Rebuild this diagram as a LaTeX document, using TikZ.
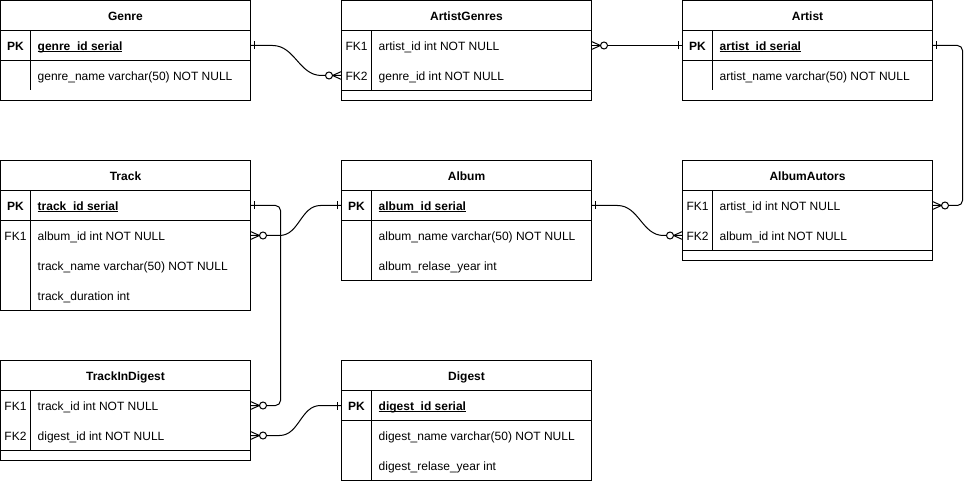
\documentclass[tikz,border=0pt]{standalone}
\usepackage{fontspec}
\setmainfont{Liberation Sans}
\usetikzlibrary{calc}
\newcommand\ulx[1]{\setbox0\hbox{#1}\rlap{\rule[-1.6pt]{\wd0}{0.9pt}}\box0}
\tikzset{
  tbl/.style={draw=black, line width=1pt},
  conn/.style={draw=black, line width=1pt},
  rowbox/.style={minimum width=250pt, minimum height=30pt, inner sep=0pt, outer sep=0pt},
  ttl/.style={anchor=base, inner sep=0pt, font=\fontsize{12pt}{14pt}\selectfont\bfseries},
  keyb/.style={anchor=base, inner sep=0pt, font=\fontsize{12pt}{14pt}\selectfont\bfseries},
  keyn/.style={anchor=base, inner sep=0pt, font=\fontsize{12pt}{14pt}\selectfont},
  fld/.style={anchor=base west, inner sep=0pt, font=\fontsize{12pt}{14pt}\selectfont},
  onebar/.pic={\draw[conn] (4,-4) -- (4,4);},
  zmany/.pic={\draw[conn] (0,4) -- (9,0) -- (0,-4); \draw[conn, fill=white] (12.5,0) circle (3.5pt);}
}
\begin{document}
\begin{tikzpicture}[x=1pt, y=-1pt]
\fill[white] (0,0) rectangle (972,481);
\useasboundingbox (0,0) rectangle (972,481);

% Genre
\begin{scope}[shift={(0.5,0.5)}]
  \draw[tbl] (0,0) rectangle (250,100);
  \draw[tbl] (0,30) -- (250,30) (0,60) -- (250,60) (30,30) -- (30,90);
  \node[ttl] (genre-t) at (125,20) {Genre};
  \node[rowbox] (genre-pk) at (125,45) {};
  \node[rowbox] (genre-nm) at (125,75) {};
  \node[keyb] (genre-k1) at (15,50) {PK};
  \node[fld] (genre-f1) at (37,50) {\bfseries\ulx{genre\_id serial}};
  \node[fld] (genre-f2) at (37,80) {genre\_name varchar(50) NOT NULL};
\end{scope}

% ArtistGenres
\begin{scope}[shift={(341.5,0.5)}]
  \draw[tbl] (0,0) rectangle (250,100);
  \draw[tbl] (0,30) -- (250,30) (0,90) -- (250,90) (30,30) -- (30,90);
  \node[ttl] (ag-t) at (125,20) {ArtistGenres};
  \node[rowbox] (ag-fk1) at (125,45) {};
  \node[rowbox] (ag-fk2) at (125,75) {};
  \node[keyn] (ag-k1) at (15,50) {FK1};
  \node[keyn] (ag-k2) at (15,80) {FK2};
  \node[fld] (ag-f1) at (37,50) {artist\_id int NOT NULL};
  \node[fld] (ag-f2) at (37,80) {genre\_id int NOT NULL};
\end{scope}

% Artist
\begin{scope}[shift={(682.5,0.5)}]
  \draw[tbl] (0,0) rectangle (250,100);
  \draw[tbl] (0,30) -- (250,30) (0,60) -- (250,60) (30,30) -- (30,90);
  \node[ttl] (artist-t) at (125,20) {Artist};
  \node[rowbox] (artist-pk) at (125,45) {};
  \node[rowbox] (artist-nm) at (125,75) {};
  \node[keyb] (artist-k1) at (15,50) {PK};
  \node[fld] (artist-f1) at (37,50) {\bfseries\ulx{artist\_id serial}};
  \node[fld] (artist-f2) at (37,80) {artist\_name varchar(50) NOT NULL};
\end{scope}

% Track
\begin{scope}[shift={(0.5,160.5)}]
  \draw[tbl] (0,0) rectangle (250,150);
  \draw[tbl] (0,30) -- (250,30) (0,60) -- (250,60) (30,30) -- (30,150);
  \node[ttl] (track-t) at (125,20) {Track};
  \node[rowbox] (track-pk) at (125,45) {};
  \node[rowbox] (track-fk1) at (125,75) {};
  \node[rowbox] (track-nm) at (125,105) {};
  \node[rowbox] (track-du) at (125,135) {};
  \node[keyb] (track-k1) at (15,50) {PK};
  \node[keyn] (track-k2) at (15,80) {FK1};
  \node[fld] (track-f1) at (37,50) {\bfseries\ulx{track\_id serial}};
  \node[fld] (track-f2) at (37,80) {album\_id int NOT NULL};
  \node[fld] (track-f3) at (37,110) {track\_name varchar(50) NOT NULL};
  \node[fld] (track-f4) at (37,140) {track\_duration int};
\end{scope}

% Album
\begin{scope}[shift={(341.5,160.5)}]
  \draw[tbl] (0,0) rectangle (250,120);
  \draw[tbl] (0,30) -- (250,30) (0,60) -- (250,60) (30,30) -- (30,120);
  \node[ttl] (album-t) at (125,20) {Album};
  \node[rowbox] (album-pk) at (125,45) {};
  \node[rowbox] (album-nm) at (125,75) {};
  \node[rowbox] (album-yr) at (125,105) {};
  \node[keyb] (album-k1) at (15,50) {PK};
  \node[fld] (album-f1) at (37,50) {\bfseries\ulx{album\_id serial}};
  \node[fld] (album-f2) at (37,80) {album\_name varchar(50) NOT NULL};
  \node[fld] (album-f3) at (37,110) {album\_relase\_year int};
\end{scope}

% AlbumAutors
\begin{scope}[shift={(682.5,160.5)}]
  \draw[tbl] (0,0) rectangle (250,100);
  \draw[tbl] (0,30) -- (250,30) (0,90) -- (250,90) (30,30) -- (30,90);
  \node[ttl] (aa-t) at (125,20) {AlbumAutors};
  \node[rowbox] (aa-fk1) at (125,45) {};
  \node[rowbox] (aa-fk2) at (125,75) {};
  \node[keyn] (aa-k1) at (15,50) {FK1};
  \node[keyn] (aa-k2) at (15,80) {FK2};
  \node[fld] (aa-f1) at (37,50) {artist\_id int NOT NULL};
  \node[fld] (aa-f2) at (37,80) {album\_id int NOT NULL};
\end{scope}

% TrackInDigest
\begin{scope}[shift={(0.5,360.5)}]
  \draw[tbl] (0,0) rectangle (250,100);
  \draw[tbl] (0,30) -- (250,30) (0,90) -- (250,90) (30,30) -- (30,90);
  \node[ttl] (tid-t) at (125,20) {TrackInDigest};
  \node[rowbox] (tid-fk1) at (125,45) {};
  \node[rowbox] (tid-fk2) at (125,75) {};
  \node[keyn] (tid-k1) at (15,50) {FK1};
  \node[keyn] (tid-k2) at (15,80) {FK2};
  \node[fld] (tid-f1) at (37,50) {track\_id int NOT NULL};
  \node[fld] (tid-f2) at (37,80) {digest\_id int NOT NULL};
\end{scope}

% Digest
\begin{scope}[shift={(341.5,360.5)}]
  \draw[tbl] (0,0) rectangle (250,120);
  \draw[tbl] (0,30) -- (250,30) (0,60) -- (250,60) (30,30) -- (30,120);
  \node[ttl] (digest-t) at (125,20) {Digest};
  \node[rowbox] (digest-pk) at (125,45) {};
  \node[rowbox] (digest-nm) at (125,75) {};
  \node[rowbox] (digest-yr) at (125,105) {};
  \node[keyb] (digest-k1) at (15,50) {PK};
  \node[fld] (digest-f1) at (37,50) {\bfseries\ulx{digest\_id serial}};
  \node[fld] (digest-f2) at (37,80) {digest\_name varchar(50) NOT NULL};
  \node[fld] (digest-f3) at (37,110) {digest\_relase\_year int};
\end{scope}

% Connectors
\draw[conn] (genre-pk.east) -- ++(22,0) to[out=0,in=180] ($(ag-fk2.west)+(-20,0)$) -- (ag-fk2.west);
\draw[conn] (ag-fk1.east) -- (artist-pk.west);
\draw[conn, rounded corners=5pt] (artist-pk.east) -- ++(30,0) |- (aa-fk1.east);
\draw[conn, rounded corners=5pt] (track-pk.east) -- ++(30,0) |- (tid-fk1.east);
\draw[conn] (track-fk1.east) -- ++(29,0) to[out=0,in=180] ($(album-pk.west)+(-21,0)$) -- (album-pk.west);
\draw[conn] (tid-fk2.east) -- ++(29,0) to[out=0,in=180] ($(digest-pk.west)+(-21,0)$) -- (digest-pk.west);
\draw[conn] (album-pk.east) -- ++(26,0) to[out=0,in=180] ($(aa-fk2.west)+(-19,0)$) -- (aa-fk2.west);

% Ends
\pic at (genre-pk.east) {onebar};
\pic[rotate=180] at (ag-fk2.west) {zmany};
\pic at (ag-fk1.east) {zmany};
\pic[rotate=180] at (artist-pk.west) {onebar};
\pic at (artist-pk.east) {onebar};
\pic at (aa-fk1.east) {zmany};
\pic at (track-pk.east) {onebar};
\pic at (tid-fk1.east) {zmany};
\pic at (track-fk1.east) {zmany};
\pic[rotate=180] at (album-pk.west) {onebar};
\pic at (tid-fk2.east) {zmany};
\pic[rotate=180] at (digest-pk.west) {onebar};
\pic at (album-pk.east) {onebar};
\pic[rotate=180] at (aa-fk2.west) {zmany};
\end{tikzpicture}
\end{document}
